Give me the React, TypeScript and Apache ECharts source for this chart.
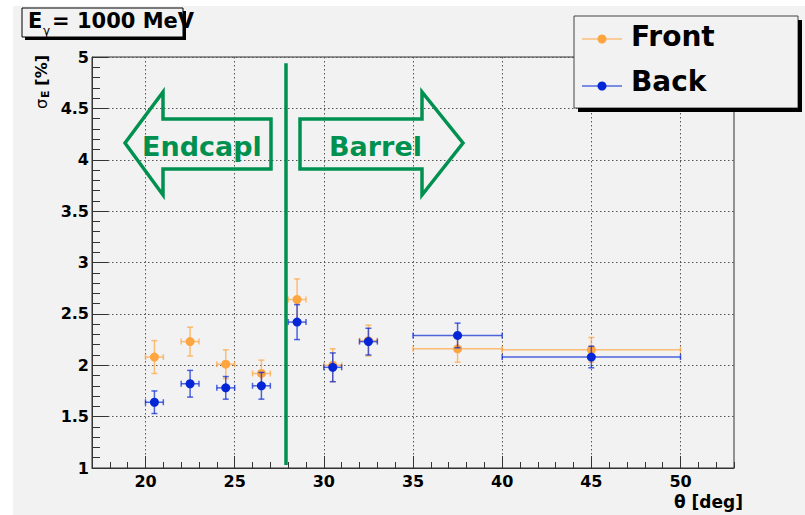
import React, { useEffect, useRef } from "react";
import * as echarts from "echarts";

// Polar angle bins (deg) and their half-widths
const theta = [20.5, 22.5, 24.5, 26.5, 28.5, 30.5, 32.5, 37.5, 45];
const thetaErr = [0.5, 0.5, 0.5, 0.5, 0.5, 0.5, 0.5, 2.5, 5];

// Relative energy resolution sigma_E (%) and its uncertainty
const frontSigma = [2.08, 2.23, 2.01, 1.92, 2.64, 2.0, 2.24, 2.16, 2.15];
const frontErr = [0.16, 0.14, 0.14, 0.13, 0.2, 0.16, 0.15, 0.13, 0.12];
const backSigma = [1.64, 1.82, 1.78, 1.8, 2.42, 1.98, 2.23, 2.29, 2.08];
const backErr = [0.11, 0.13, 0.11, 0.13, 0.17, 0.14, 0.13, 0.12, 0.105];

const xMajorTicks = [20, 25, 30, 35, 40, 45, 50];
const boundaryTheta = 27.85; // endcap / barrel transition
const boundarySpan = [1.03, 4.94];

const FONT = "DejaVu Sans";
const ORANGE = "#ffa540";
const BLUE = "#0526d6";
const GREEN = "#009150";
const BG = "#f2f2f2";

const errorData = (vals: number[], errs: number[]) =>
  theta.map((t, i) => [t, vals[i], thetaErr[i], errs[i]]);
const pointData = (vals: number[]) => theta.map((t, i) => [t, vals[i]]);

const renderErrors = (color: string) => (_params: any, api: any) => {
  const x = api.value(0);
  const y = api.value(1);
  const ex = api.value(2);
  const ey = api.value(3);
  const L = api.coord([x - ex, y]);
  const R = api.coord([x + ex, y]);
  const T = api.coord([x, y + ey]);
  const B = api.coord([x, y - ey]);
  const cap = 3;
  const style = { stroke: color, lineWidth: 1.5, opacity: 0.7 };
  const seg = (x1: number, y1: number, x2: number, y2: number) => ({
    type: "line",
    shape: { x1, y1, x2, y2 },
    style,
  });
  return {
    type: "group",
    children: [
      seg(L[0], L[1], R[0], R[1]),
      seg(L[0], L[1] - cap, L[0], L[1] + cap),
      seg(R[0], R[1] - cap, R[0], R[1] + cap),
      seg(T[0], T[1], B[0], B[1]),
      seg(T[0] - cap, T[1], T[0] + cap, T[1]),
      seg(B[0] - cap, B[1], B[0] + cap, B[1]),
    ],
  };
};

const txt = (
  text: string,
  x: number,
  y: number,
  size: number,
  extra: any = {}
) => ({
  type: "text",
  x,
  y,
  z: 102,
  silent: true,
  style: {
    text,
    fontSize: size,
    fontWeight: "bold",
    fontFamily: FONT,
    fill: "#000",
    align: "left",
    verticalAlign: "middle",
    ...extra,
  },
});

const rect = (x: number, y: number, w: number, h: number, style: any, z = 100) => ({
  type: "rect",
  z,
  silent: true,
  shape: { x, y, width: w, height: h },
  style,
});

export default function App() {
  const ref = useRef<HTMLDivElement>(null);

  useEffect(() => {
    if (!ref.current) return;
    const chart = echarts.init(ref.current, undefined, { renderer: "svg" });

    const axisColor = "#333";
    const gridLine = { show: true, lineStyle: { color: "#555", type: [1.5, 2.5], width: 1 } };
    const labelStyle = { fontFamily: FONT, fontWeight: "bold", fontSize: 16, color: "#000" };

    const option: any = {
      animation: false,
      backgroundColor: BG,
      textStyle: { fontFamily: FONT },
      grid: {
        left: 92,
        top: 57,
        width: 642,
        height: 411,
        show: true,
        borderColor: axisColor,
        borderWidth: 1,
        backgroundColor: "transparent",
        containLabel: false,
      },
      xAxis: [
        {
          type: "value",
          min: 17,
          max: 53,
          interval: 1,
          axisLine: { show: true, onZero: false, lineStyle: { color: axisColor } },
          axisTick: { inside: true, length: 6, lineStyle: { color: axisColor } },
          axisLabel: {
            ...labelStyle,
            margin: 5,
            formatter: (v: number) => (xMajorTicks.includes(v) ? String(v) : ""),
          },
          splitLine: { show: false },
        },
        {
          type: "value",
          min: 17,
          max: 53,
          position: "bottom",
          axisLine: { show: false },
          axisTick: {
            inside: true,
            length: 12,
            customValues: xMajorTicks,
            lineStyle: { color: axisColor },
          },
          axisLabel: { show: false, customValues: xMajorTicks },
          splitLine: gridLine,
        },
      ],
      yAxis: {
        type: "value",
        min: 1,
        max: 5,
        interval: 0.5,
        axisLine: { show: true, onZero: false, lineStyle: { color: axisColor } },
        axisTick: { inside: true, length: 16, lineStyle: { color: axisColor } },
        minorTick: { show: true, splitNumber: 5, length: 8, lineStyle: { color: axisColor } },
        axisLabel: { ...labelStyle, margin: 3 },
        splitLine: gridLine,
      },
      series: [
        {
          name: "Front errors",
          type: "custom",
          xAxisIndex: 0,
          yAxisIndex: 0,
          z: 2,
          renderItem: renderErrors(ORANGE),
          encode: { x: 0, y: 1 },
          data: errorData(frontSigma, frontErr),
          markLine: {
            silent: true,
            symbol: ["none", "none"],
            label: { show: false },
            lineStyle: { color: GREEN, width: 3.5, type: "solid" },
            data: [
              [
                { coord: [boundaryTheta, boundarySpan[0]] },
                { coord: [boundaryTheta, boundarySpan[1]] },
              ],
            ],
          },
        },
        {
          name: "Front",
          type: "scatter",
          z: 3,
          symbol: "circle",
          symbolSize: 9,
          itemStyle: { color: ORANGE, opacity: 1 },
          data: pointData(frontSigma),
        },
        {
          name: "Back errors",
          type: "custom",
          z: 4,
          renderItem: renderErrors(BLUE),
          encode: { x: 0, y: 1 },
          data: errorData(backSigma, backErr),
        },
        {
          name: "Back",
          type: "scatter",
          z: 5,
          symbol: "circle",
          symbolSize: 9,
          itemStyle: { color: BLUE, opacity: 1 },
          data: pointData(backSigma),
        },
      ],
      graphic: [
        // canvas margins
        rect(0, 0, 805, 6, { fill: "#fff" }, 0),
        rect(0, 0, 13, 515, { fill: "#fff" }, 0),

        // endcap / barrel arrows
        {
          type: "polygon",
          z: 50,
          silent: true,
          shape: {
            points: [
              [125, 143], [163, 92], [163, 119], [271, 119],
              [271, 169], [163, 169], [163, 195],
            ],
          },
          style: { fill: "none", stroke: GREEN, lineWidth: 3.5, lineJoin: "miter" },
        },
        {
          type: "polygon",
          z: 50,
          silent: true,
          shape: {
            points: [
              [300, 119], [422, 119], [422, 92], [463, 143],
              [422, 195], [422, 169], [300, 169],
            ],
          },
          style: { fill: "none", stroke: GREEN, lineWidth: 3.5, lineJoin: "miter" },
        },
        txt("Endcapl", 142, 146, 27, { fill: GREEN }),
        txt("Barrel", 329, 146, 27, { fill: GREEN }),

        // beam energy box
        rect(22, 8, 161, 29, { fill: BG }, 100),
        txt("E", 28, 21, 21),
        txt("γ", 43, 31, 12, { fontWeight: "normal" }),
        txt("= 1000 MeV", 52, 21, 21),
        rect(22, 8, 161, 29, { fill: "none", stroke: "#000", lineWidth: 1 }, 103),
        rect(183, 11, 3, 29, { fill: "#000" }, 104),
        rect(25, 37, 161, 3, { fill: "#000" }, 104),

        // legend
        rect(574, 16, 224, 92, { fill: BG }, 100),
        rect(574, 16, 224, 92, { fill: "none", stroke: "#444", lineWidth: 1 }, 103),
        rect(798, 20, 4, 92, { fill: "#000" }, 104),
        rect(578, 108, 224, 4, { fill: "#000" }, 104),
        { type: "line", z: 101, silent: true, shape: { x1: 582, y1: 39, x2: 622, y2: 39 }, style: { stroke: ORANGE, lineWidth: 1 } },
        { type: "circle", z: 102, silent: true, shape: { cx: 602, cy: 39, r: 4.5 }, style: { fill: ORANGE } },
        { type: "line", z: 101, silent: true, shape: { x1: 582, y1: 86, x2: 622, y2: 86 }, style: { stroke: BLUE, lineWidth: 1 } },
        { type: "circle", z: 102, silent: true, shape: { cx: 602, cy: 86, r: 4.5 }, style: { fill: BLUE } },
        txt("Front", 631, 36, 28),
        txt("Back", 631, 81, 28),

        // axis titles
        {
          type: "group",
          x: 41,
          y: 55,
          rotation: Math.PI / 2,
          silent: true,
          children: [
            txt("σ", -54, 0, 16, { fontWeight: "normal" }),
            txt("E", -43, 4, 11),
            txt("[%]", 0, 0, 16, { align: "right" }),
          ],
        },
        txt("θ [deg]", 743, 502, 17, { align: "right" }),
      ],
    };

    chart.setOption(option);
    return () => chart.dispose();
  }, []);

  return (
    <div
      ref={ref}
      style={{ position: "fixed", left: 0, top: 0, width: 805, height: 515 }}
    />
  );
}
